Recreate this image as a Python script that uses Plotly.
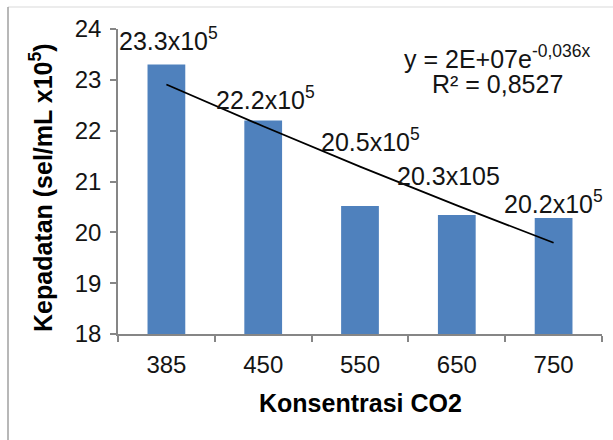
import numpy as np
import plotly.graph_objects as go

categories = ["385", "450", "550", "650", "750"]
density = [23.3, 22.2, 20.52, 20.34, 20.28]
bar_labels = ["23.3x10<sup>5</sup>", "22.2x10<sup>5</sup>", "20.5x10<sup>5</sup>",
              "20.3x105", "20.2x10<sup>5</sup>"]
y_ticks = [18, 19, 20, 21, 22, 23, 24]
equation_text = "y = 2E+07e<sup>-0,036x</sup>"
r2_text = "R² = 0,8527"

# exponential trendline fitted to the bars (x = 1..n as in Excel)
idx = np.arange(1, len(density) + 1)
b, lna = np.polyfit(idx, np.log(density), 1)
trend = np.exp(lna + b * idx)

# label placement (data-units y, pixel x shift)
label_y = [23.80, 22.64, 21.81, 21.11, 20.59]
label_dx = [2, 2, 10, -8, 0]

FONT = "Arial, Liberation Sans, Helvetica, sans-serif"
AXIS = "#868686"
TXT = "#141414"

def px_x(px):
    return (px - 118) / 484

def px_y(py):
    return (334 - py) / 305

fig = go.Figure()
fig.add_trace(go.Bar(x=categories, y=density, marker=dict(color="#4F81BD", line=dict(width=0)),
                     width=0.39, showlegend=False, hoverinfo="skip"))
fig.add_trace(go.Scatter(x=categories, y=trend, mode="lines",
                         line=dict(color="black", width=1.8), showlegend=False, hoverinfo="skip"))

ann = []
for i, (t, ly, dx) in enumerate(zip(bar_labels, label_y, label_dx)):
    ann.append(dict(x=i, xref="x", y=ly, yref="y", text=t, showarrow=False, xshift=dx,
                    xanchor="center", yanchor="middle",
                    font=dict(size=25, color=TXT, family=FONT)))
common = dict(xref="paper", yref="paper", showarrow=False, xanchor="center", yanchor="middle")
ann.append(dict(x=px_x(497), y=px_y(57), text=equation_text,
                font=dict(size=25, color=TXT, family=FONT), **common))
ann.append(dict(x=px_x(497), y=px_y(84), text=r2_text,
                font=dict(size=25, color=TXT, family=FONT), **common))
ann.append(dict(x=0.5, y=px_y(403), text="<b>Konsentrasi CO2</b>",
                font=dict(size=25, color="black", family=FONT), **common))
ann.append(dict(x=px_x(41), y=px_y(188), text="<b>Kepadatan (sel/mL x10<sup>5</sup>)</b>", textangle=-90,
                font=dict(size=25, color="black", family=FONT), **common))

shapes = [
    dict(type="line", xref="paper", yref="paper", x0=px_x(8), x1=px_x(613),
         y0=px_y(7), y1=px_y(7), line=dict(color="#d9d9d9", width=1)),
    dict(type="line", xref="paper", yref="paper", x0=px_x(8), x1=px_x(8),
         y0=px_y(7), y1=px_y(440), line=dict(color="#a0a0a0", width=1.5)),
]

fig.update_layout(
    width=613, height=440,
    margin=dict(l=118, r=11, t=29, b=106),
    paper_bgcolor="white", plot_bgcolor="white",
    font=dict(family=FONT, size=24, color=TXT),
    annotations=ann, shapes=shapes,
    xaxis=dict(type="category", range=[-0.5, len(categories) - 0.5], autorange=False,
               showline=True, linecolor=AXIS, linewidth=1.5,
               ticks="outside", tickson="boundaries", ticklen=6, tickcolor=AXIS, tickwidth=1.5,
               tickfont=dict(size=24, color=TXT), showgrid=False, zeroline=False,
               ticklabelstandoff=8),
    yaxis=dict(range=[18, 24], autorange=False, tickvals=y_ticks, showline=True, linecolor=AXIS, linewidth=1.5,
               ticks="outside", ticklen=6, tickcolor=AXIS, tickwidth=1.5,
               tickfont=dict(size=24, color=TXT), showgrid=False, zeroline=False,
               ticklabelstandoff=4),
)
fig.update_traces(cliponaxis=False, selector=dict(type="scatter"))
fig.write_html("out.html")
